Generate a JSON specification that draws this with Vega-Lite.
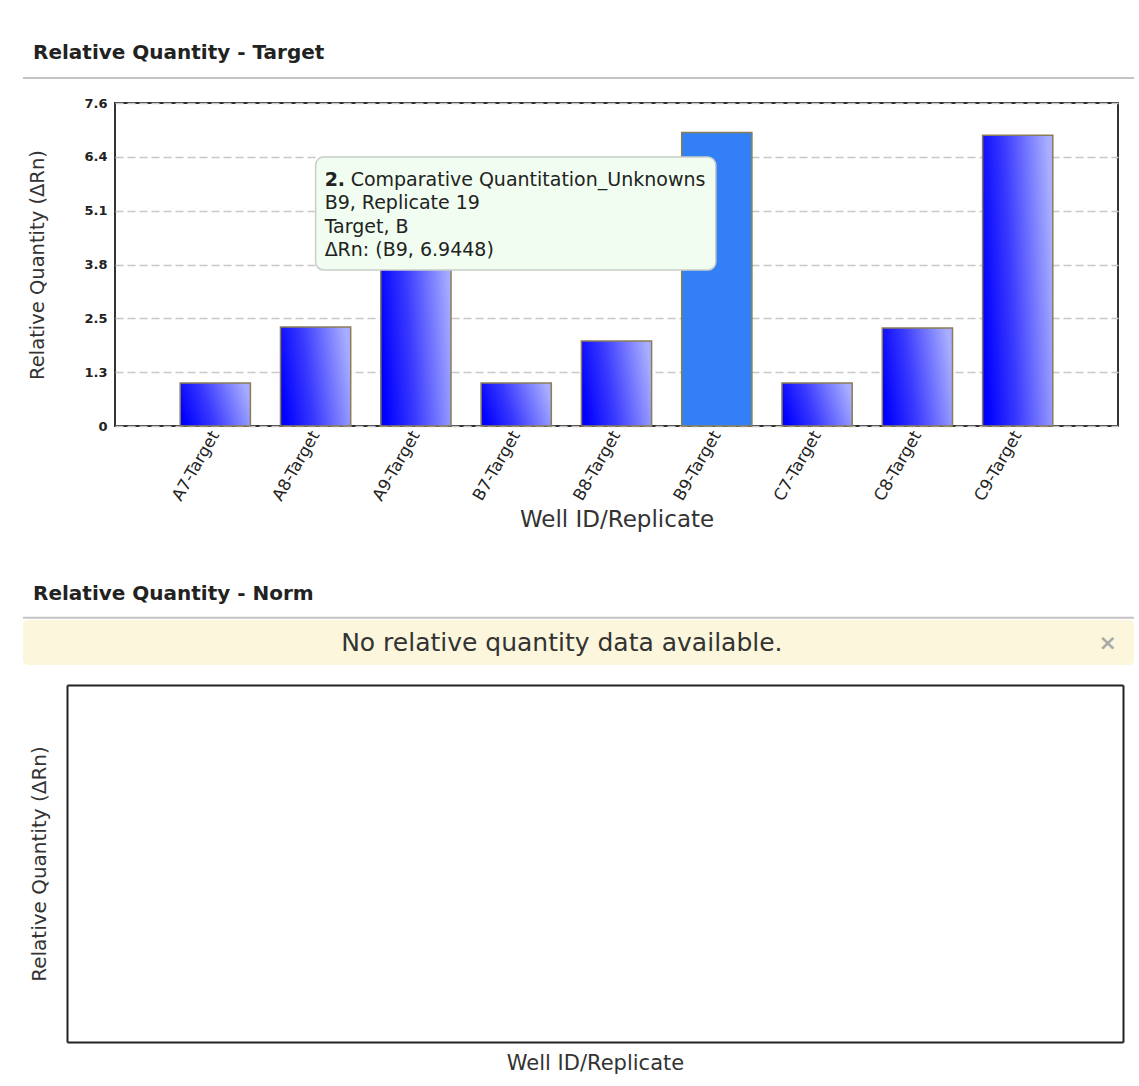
{
  "$schema": "https://vega.github.io/schema/vega-lite/v6.json",
  "background": "white",
  "padding": {"top": 42, "left": 21, "right": 0, "bottom": 5},
  "config": {
    "font": "DejaVu Sans",
    "title": {"font": "DejaVu Sans", "fontSize": 20, "fontWeight": "bold", "color": "#222222", "anchor": "start"},
    "axis": {"labelFont": "DejaVu Sans", "titleFont": "DejaVu Sans", "titleFontWeight": "normal", "titleColor": "#333333", "labelColor": "#222222"}
  },
  "datasets": {
    "wells": [
      {"well": "A7-Target", "rq": 1.02},
      {"well": "A8-Target", "rq": 2.34},
      {"well": "A9-Target", "rq": 4.9},
      {"well": "B7-Target", "rq": 1.02},
      {"well": "B8-Target", "rq": 2.01},
      {"well": "B9-Target", "rq": 6.9448},
      {"well": "C7-Target", "rq": 1.02},
      {"well": "C8-Target", "rq": 2.32},
      {"well": "C9-Target", "rq": 6.88}
    ],
    "tipbox": [{"x1": 2.0, "x2": 5.99, "y1": 3.69, "y2": 6.36}],
    "tipbold": [{"tx": 2.09, "ty": 5.82, "t": "2."}],
    "tipfirst": [{"tx": 2.09, "ty": 5.82, "t": "Comparative Quantitation_Unknowns"}],
    "tiplines": [
      {"tx": 2.09, "ty": 5.27, "t": "B9, Replicate 19"},
      {"tx": 2.09, "ty": 4.71, "t": "Target, B"},
      {"tx": 2.09, "ty": 4.16, "t": "ΔRn: (B9, 6.9448)"}
    ],
    "separator": [{"part": "header rule"}],
    "banner": [{"msg": "No relative quantity data available.", "close": "×"}],
    "empty": []
  },
  "vconcat": [
    {
      "title": {"text": "Relative Quantity - Target", "offset": 14, "dx": 11},
      "width": 1003,
      "height": 323,
      "view": {"stroke": "#333333", "strokeWidth": 2},
      "layer": [
        {
          "data": {"name": "wells"},
          "mark": {"type": "bar", "stroke": "#8a7d55", "strokeWidth": 1.5},
          "encoding": {
            "x": {
              "field": "well", "type": "nominal", "sort": null,
              "scale": {"paddingInner": 0.3, "paddingOuter": 0.65},
              "axis": {"title": "Well ID/Replicate", "labelAngle": -60, "labelAlign": "right", "labelBaseline": "middle", "labelFontSize": 16.5, "labelPadding": 6, "ticks": false, "domain": false, "titleFontSize": 23, "titlePadding": 5}
            },
            "y": {
              "field": "rq", "type": "quantitative",
              "scale": {"domain": [0, 7.64], "nice": false},
              "axis": {"title": "Relative Quantity (ΔRn)", "values": [0, 1.2733, 2.5467, 3.82, 5.0933, 6.3667, 7.64], "format": ".1~f", "labelFontSize": 13, "labelFontWeight": "bold", "labelPadding": 8, "ticks": false, "domain": false, "gridDash": [8, 4], "gridColor": "#c8c8c8", "gridWidth": 1.5, "titlePadding": 36, "titleFontSize": 19.5}
            },
            "fill": {
              "condition": {"test": "datum.well === 'B9-Target'", "value": "#3380f6"},
              "value": {"gradient": "linear", "x1": 0, "y1": 0.6, "x2": 1, "y2": 0.4, "stops": [{"offset": 0, "color": "#0000ff"}, {"offset": 0.4, "color": "#3a3aff"}, {"offset": 1, "color": "#a8aeff"}]}
            }
          }
        },
        {
          "data": {"name": "separator"},
          "mark": {"type": "rule", "stroke": "#c4c4c4", "strokeWidth": 2},
          "encoding": {
            "x": {"datum": -0.917, "type": "quantitative", "scale": {"domain": [0, 10], "nice": false}, "axis": null},
            "x2": {"datum": 10.16},
            "y": {"datum": 8.23, "type": "quantitative"}
          }
        },
        {
          "data": {"name": "tipbox"},
          "mark": {"type": "rect", "fill": "#f0fdf0", "stroke": "#c8cec8", "strokeWidth": 1.5, "cornerRadius": 8},
          "encoding": {
            "x": {"field": "x1", "type": "quantitative", "scale": {"domain": [0, 10], "nice": false}, "axis": null},
            "x2": {"field": "x2"},
            "y": {"field": "y1", "type": "quantitative"},
            "y2": {"field": "y2"}
          }
        },
        {
          "data": {"name": "tipbold"},
          "mark": {"type": "text", "align": "left", "baseline": "middle", "fontSize": 19, "fontWeight": "bold", "color": "#222222"},
          "encoding": {
            "x": {"field": "tx", "type": "quantitative", "scale": {"domain": [0, 10], "nice": false}, "axis": null},
            "y": {"field": "ty", "type": "quantitative"},
            "text": {"field": "t"}
          }
        },
        {
          "data": {"name": "tipfirst"},
          "mark": {"type": "text", "align": "left", "baseline": "middle", "fontSize": 19, "dx": 26, "color": "#222222"},
          "encoding": {
            "x": {"field": "tx", "type": "quantitative", "scale": {"domain": [0, 10], "nice": false}, "axis": null},
            "y": {"field": "ty", "type": "quantitative"},
            "text": {"field": "t"}
          }
        },
        {
          "data": {"name": "tiplines"},
          "mark": {"type": "text", "align": "left", "baseline": "middle", "fontSize": 19, "color": "#222222"},
          "encoding": {
            "x": {"field": "tx", "type": "quantitative", "scale": {"domain": [0, 10], "nice": false}, "axis": null},
            "y": {"field": "ty", "type": "quantitative"},
            "text": {"field": "t"}
          }
        }
      ],
      "resolve": {"scale": {"x": "independent"}, "axis": {"x": "independent"}}
    },
    {
      "spacing": 20,
      "vconcat": [
        {
          "title": {"text": "Relative Quantity - Norm", "offset": 13, "dx": 11},
          "width": 1019,
          "height": 45,
          "view": {"stroke": null},
          "data": {"name": "banner"},
          "layer": [
            {
              "mark": {"type": "rect", "fill": "#fcf7dc", "cornerRadius": 5},
              "encoding": {
                "x": {"datum": 0, "type": "quantitative", "scale": {"domain": [0, 1], "range": [-92, 1019]}, "axis": null},
                "x2": {"datum": 1}
              }
            },
            {
              "mark": {"type": "rule", "stroke": "#c4c4c4", "strokeWidth": 2},
              "encoding": {
                "x": {"datum": 0, "type": "quantitative"},
                "x2": {"datum": 1},
                "y": {"datum": 1.05, "type": "quantitative", "scale": {"domain": [0, 1]}, "axis": null}
              }
            },
            {
              "mark": {"type": "text", "fontSize": 25, "color": "#333333", "align": "center", "baseline": "middle"},
              "encoding": {
                "x": {"datum": 0.485, "type": "quantitative"},
                "text": {"field": "msg"}
              }
            },
            {
              "mark": {"type": "text", "fontSize": 22, "fontWeight": "bold", "color": "#aaaaaa", "align": "right", "baseline": "middle", "dx": -17},
              "encoding": {
                "x": {"datum": 1, "type": "quantitative"},
                "text": {"field": "close"}
              }
            }
          ]
        },
        {
          "width": 1008,
          "height": 357,
          "view": {"stroke": null},
          "data": {"name": "empty"},
          "layer": [
            {
              "mark": {"type": "point", "opacity": 0},
              "encoding": {
                "x": {"field": "well", "type": "quantitative", "scale": {"domain": [0, 1], "range": [-48, 1008]}, "axis": {"orient": "bottom", "title": "Well ID/Replicate", "labels": false, "ticks": false, "grid": false, "domainColor": "#222222", "domainWidth": 2, "titlePadding": 10, "titleFontSize": 21}},
                "y": {"field": "rq", "type": "quantitative", "scale": {"domain": [0, 1]}, "axis": {"orient": "left", "offset": 48, "title": "Relative Quantity (ΔRn)", "labels": false, "ticks": false, "grid": false, "domainColor": "#222222", "domainWidth": 2, "titlePadding": 18, "titleFontSize": 20}}
              }
            },
            {
              "mark": {"type": "point", "opacity": 0},
              "encoding": {
                "x": {"field": "well", "type": "quantitative", "axis": {"orient": "top", "title": null, "labels": false, "ticks": false, "grid": false, "domainColor": "#222222", "domainWidth": 2}},
                "y": {"field": "rq", "type": "quantitative", "axis": {"orient": "right", "title": null, "labels": false, "ticks": false, "grid": false, "domainColor": "#222222", "domainWidth": 2}}
              }
            }
          ],
          "resolve": {"axis": {"x": "independent", "y": "independent"}}
        }
      ]
    }
  ],
  "spacing": 50
}
